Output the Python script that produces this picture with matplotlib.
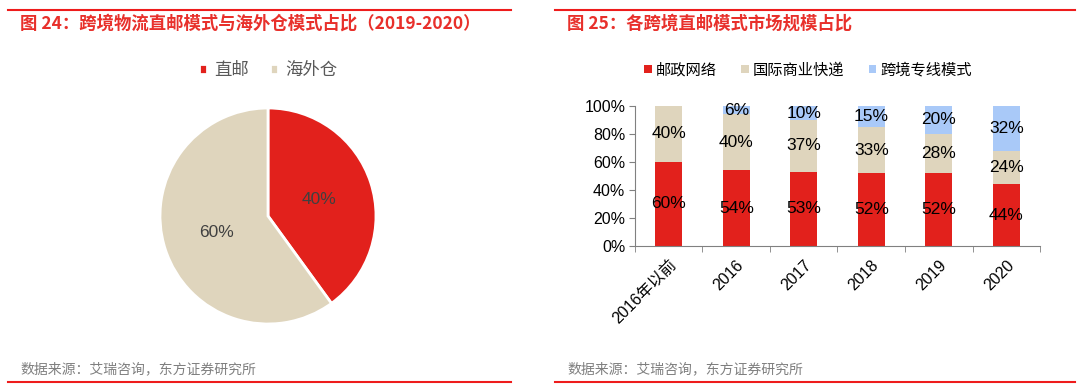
import matplotlib
matplotlib.use("Agg")
import matplotlib.pyplot as plt
from matplotlib.lines import Line2D
import numpy as np

plt.rcParams['font.family'] = ['Noto Sans CJK SC', 'DejaVu Sans']

# ---- data ----
pie_labels = ["直邮", "海外仓"]
pie_values = [40, 60]

bar_categories = ["2016年以前", "2016", "2017", "2018", "2019", "2020"]
series_names = ["邮政网络", "国际商业快递", "跨境专线模式"]
postal = [60, 54, 53, 52, 52, 44]
express = [40, 40, 37, 33, 28, 24]
dedicated = [0, 6, 10, 15, 20, 32]

title_left = "图 24：跨境物流直邮模式与海外仓模式占比（2019-2020）"
title_right = "图 25：各跨境直邮模式市场规模占比"
source = "数据来源：艾瑞咨询，东方证券研究所"

RED = "#E2211C"
BEIGE = "#DFD5BD"
BLUE = "#A9C9F8"
TITLE_RED = "#E8302B"
ARIAL = ['Liberation Sans', 'Noto Sans CJK SC']

W, H = 1080, 392
fig = plt.figure(figsize=(W / 100, H / 100), dpi=100)

def px(x0, y0, w, h):
    return [x0 / W, 1 - (y0 + h) / H, w / W, h / H]

def hline(x0, x1, y, lw=1.5):
    fig.add_artist(Line2D([x0 / W, x1 / W], [1 - y / H, 1 - y / H],
                          color="#EE1C1C", lw=lw, transform=fig.transFigure))

# rules
hline(8, 511, 10)
hline(555, 1075, 10)
hline(8, 511, 382)
hline(555, 1075, 382)

# titles
fig.text(20 / W, 1 - 24 / H, title_left, color=TITLE_RED, fontsize=12.5,
         fontweight='bold', va='center', ha='left')
fig.text(567 / W, 1 - 24 / H, title_right, color=TITLE_RED, fontsize=12.5,
         fontweight='bold', va='center', ha='left')
# sources
fig.text(20 / W, 1 - 369 / H, source, color="#7F7F7F", fontsize=10, va='center', ha='left')
fig.text(567 / W, 1 - 369 / H, source, color="#7F7F7F", fontsize=10, va='center', ha='left')

# ---- pie ----
axp = fig.add_axes(px(160, 108, 216, 216))
wedges, texts, autotexts = axp.pie(
    pie_values, colors=[RED, BEIGE], startangle=90, counterclock=False,
    autopct='%d%%', pctdistance=0.5,
    wedgeprops=dict(edgecolor='white', linewidth=2),
    textprops=dict(color="#404040", fontsize=12.5, family=ARIAL))
axp.set_xlim(-1, 1)
axp.set_ylim(-1, 1)
axp.set_aspect('equal')
axp.axis('off')

legp = fig.legend(wedges, pie_labels, loc='center', bbox_to_anchor=(268 / W, 1 - 70 / H),
                  ncol=2, frameon=False, fontsize=12.5, handlelength=0.5, handleheight=0.5,
                  handletextpad=0.4, columnspacing=1.2)
for t in legp.get_texts():
    t.set_color("#595959")

# ---- stacked bars ----
axb = fig.add_axes(px(635, 106, 405, 140))
x = np.arange(len(bar_categories))
width = 0.4
b1 = axb.bar(x, postal, width, color=RED, label=series_names[0])
b2 = axb.bar(x, express, width, bottom=postal, color=BEIGE, label=series_names[1])
bottom3 = [a + b for a, b in zip(postal, express)]
b3 = axb.bar(x, dedicated, width, bottom=bottom3, color=BLUE, label=series_names[2])

for series, bottoms in ((postal, [0] * len(postal)), (express, postal), (dedicated, bottom3)):
    for xi, v, b in zip(x, series, bottoms):
        if v > 0:
            axb.text(xi, b + v / 2, f"{v}%", ha='center', va='center', fontsize=12.5,
                     color='black', family=ARIAL)

axb.set_xlim(-0.5, len(bar_categories) - 0.5)
axb.set_ylim(0, 100)
axb.set_yticks(np.arange(0, 101, 20))
axb.set_yticklabels([f"{v}%" for v in range(0, 101, 20)], fontsize=11.5, family=ARIAL)
axb.set_xticks(x)
axb.set_xticklabels(bar_categories, rotation=45, ha='right', rotation_mode='anchor',
                    fontsize=11.5, family=ARIAL)
axb.tick_params(axis='x', length=0, pad=8)
axb.set_xticks(np.arange(-0.5, len(bar_categories)), minor=True)
axb.tick_params(axis='x', which='minor', length=4, color="#808080")
axb.tick_params(axis='y', length=4, color="#808080", pad=3)
for s in ('top', 'right'):
    axb.spines[s].set_visible(False)
for s in ('left', 'bottom'):
    axb.spines[s].set_color("#808080")

legb = fig.legend([b1, b2, b3], series_names, loc='center', bbox_to_anchor=(808 / W, 1 - 70 / H),
                  ncol=3, frameon=False, fontsize=11, handlelength=0.5, handleheight=0.5,
                  handletextpad=0.25, columnspacing=1.6)

fig.savefig("out.png", dpi=100)
